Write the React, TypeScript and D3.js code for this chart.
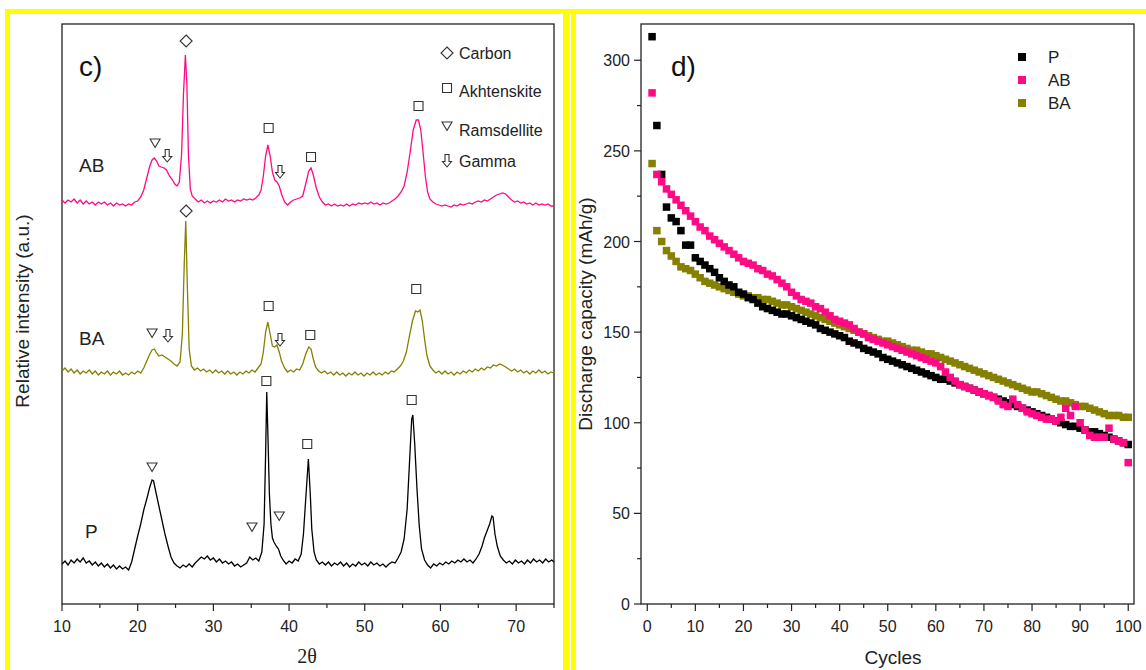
import React from "react";
import * as d3 from "d3";

// ---------- panel d) discharge capacity (mAh/g) per cycle ----------
const seriesNames = ["P", "AB", "BA"];
const seriesColors = { P: "#000000", AB: "#ff0a85", BA: "#858000" };

const capP = [
  313, 264, 237, 219, 213, 211, 206, 198, 198, 191,
  189, 187, 185, 183, 180, 178, 176, 175, 172, 171,
  169, 168, 166, 164, 163, 162, 161, 160, 160, 159,
  158, 157, 156, 155, 154, 152, 151, 150, 149, 148,
  147, 145, 144, 143, 141, 140, 139, 138, 136, 135,
  134, 133, 132, 131, 130, 129, 128, 127, 126, 125,
  124, 124, 123, 122, 121, 120, 119, 118, 117, 116,
  115, 114, 113, 112, 111, 110, 109, 108, 107, 106,
  105, 104, 103, 102, 101, 100, 99, 98, 98, 97,
  96, 95, 95, 94, 93, 92, 91, 90, 89, 88,
];

const capAB = [
  282, 237, 233, 229, 226, 223, 220, 217, 214, 211,
  208, 206, 203, 201, 199, 197, 195, 193, 191, 189,
  188, 187, 185, 184, 182, 181, 179, 177, 175, 172,
  170, 168, 167, 166, 164, 163, 161, 159, 157, 156,
  155, 154, 152, 150, 149, 147, 146, 145, 144, 143,
  142, 141, 140, 139, 138, 137, 136, 135, 134, 133,
  131, 128, 125, 123, 121, 120, 119, 118, 117, 116,
  115, 114, 112, 110, 109, 113, 110, 108, 106, 105,
  104, 103, 102, 102, 101, 103, 108, 104, 109, 100,
  96, 93, 92, 92, 92, 97, 91, 90, 89, 78,
];

const capBA = [
  243, 206, 200, 195, 192, 189, 186, 185, 184, 182,
  180, 178, 177, 176, 175, 174, 173, 172, 171, 170,
  170, 169, 169, 168, 168, 167, 166, 165, 165, 164,
  163, 162, 161, 160, 159, 158, 157, 156, 155, 154,
  153, 152, 151, 150, 149, 148, 147, 146, 145, 145,
  144, 143, 142, 141, 140, 140, 139, 138, 138, 137,
  136, 135, 134, 133, 132, 131, 130, 129, 128, 127,
  126, 125, 124, 123, 122, 121, 120, 119, 118, 117,
  117, 116, 115, 114, 113, 112, 112, 111, 110, 109,
  109, 108, 107, 106, 105, 104, 104, 104, 103, 103,
];

const capTicks = [0, 50, 100, 150, 200, 250, 300];
const cycleTicks = [0, 10, 20, 30, 40, 50, 60, 70, 80, 90, 100];

// ---------- panel c) XRD patterns, [2theta, intensity a.u.] ----------
const xrdAB = [
  [10.0, 404], [10.4, 401], [10.8, 404], [11.2, 402], [11.6, 405], [12.0, 401], [12.4, 404], [12.8, 400],
  [13.2, 403], [13.6, 400], [14.0, 402], [14.4, 399], [14.8, 402], [15.2, 400], [15.6, 402], [16.0, 399],
  [16.4, 401], [16.8, 398], [17.2, 401], [17.6, 399], [18.0, 400], [18.4, 398], [18.8, 400], [19.2, 399],
  [19.6, 402], [20.0, 403], [20.4, 407], [20.8, 414], [21.2, 426], [21.6, 438], [21.9, 444], [22.2, 446],
  [22.5, 443], [22.8, 438], [23.1, 437], [23.5, 436], [23.8, 434], [24.2, 428], [24.6, 424], [24.9, 420],
  [25.2, 418], [25.5, 422], [25.8, 450], [26.05, 510], [26.3, 549], [26.5, 520], [26.7, 450], [26.95, 415],
  [27.2, 408], [27.6, 405], [28.0, 402], [28.4, 404], [28.8, 401], [29.2, 403], [29.6, 401], [30.0, 403],
  [30.4, 402], [30.8, 404], [31.2, 402], [31.6, 405], [32.0, 403], [32.4, 404], [32.8, 402], [33.2, 404],
  [33.6, 403], [34.0, 405], [34.4, 404], [34.8, 405], [35.2, 404], [35.6, 406], [36.0, 409], [36.3, 414],
  [36.6, 428], [36.9, 448], [37.2, 459], [37.5, 448], [37.8, 432], [38.1, 424], [38.4, 422], [38.7, 418],
  [39.0, 410], [39.4, 402], [39.8, 399], [40.2, 402], [40.6, 404], [41.0, 405], [41.4, 406], [41.8, 408],
  [42.2, 420], [42.6, 433], [42.9, 436], [43.2, 429], [43.6, 416], [44.0, 407], [44.4, 402], [44.8, 399],
  [45.2, 400], [45.6, 398], [46.0, 400], [46.4, 398], [46.8, 399], [47.2, 398], [47.6, 400], [48.0, 398],
  [48.4, 400], [48.8, 399], [49.2, 401], [49.6, 400], [50.0, 401], [50.4, 400], [50.8, 402], [51.2, 400],
  [51.6, 401], [52.0, 399], [52.4, 401], [52.8, 400], [53.2, 401], [53.6, 403], [54.0, 405], [54.4, 408],
  [54.8, 412], [55.2, 418], [55.6, 432], [56.0, 452], [56.4, 474], [56.8, 484], [57.1, 484], [57.4, 474],
  [57.7, 452], [58.0, 428], [58.3, 412], [58.6, 405], [59.0, 402], [59.4, 400], [59.8, 399], [60.2, 398],
  [60.6, 399], [61.0, 398], [61.4, 397], [61.8, 399], [62.2, 398], [62.6, 400], [63.0, 399], [63.4, 400],
  [63.8, 401], [64.2, 400], [64.6, 402], [65.0, 403], [65.4, 402], [65.8, 404], [66.2, 403], [66.6, 405],
  [67.0, 407], [67.4, 409], [67.8, 410], [68.2, 411], [68.6, 410], [69.0, 407], [69.4, 404], [69.8, 402],
  [70.2, 403], [70.6, 401], [71.0, 402], [71.4, 400], [71.8, 401], [72.2, 399], [72.6, 401], [73.0, 399],
  [73.4, 400], [73.8, 399], [74.2, 400], [74.6, 398], [75.0, 398],
];

const xrdBA = [
  [10.0, 233], [10.4, 236], [10.8, 232], [11.2, 235], [11.6, 231], [12.0, 234], [12.4, 230], [12.8, 233],
  [13.2, 231], [13.6, 234], [14.0, 230], [14.4, 233], [14.8, 229], [15.2, 232], [15.6, 230], [16.0, 233],
  [16.4, 229], [16.8, 232], [17.2, 230], [17.6, 233], [18.0, 229], [18.4, 231], [18.8, 229], [19.2, 232],
  [19.6, 230], [20.0, 233], [20.4, 231], [20.8, 236], [21.2, 243], [21.6, 250], [21.9, 254], [22.2, 255],
  [22.5, 251], [22.8, 248], [23.2, 249], [23.6, 247], [24.0, 245], [24.4, 243], [24.8, 240], [25.2, 238],
  [25.6, 242], [25.9, 270], [26.15, 340], [26.35, 383], [26.55, 320], [26.8, 255], [27.1, 238], [27.5, 234],
  [27.9, 236], [28.3, 233], [28.7, 235], [29.1, 232], [29.5, 234], [29.9, 231], [30.3, 234], [30.7, 231],
  [31.1, 233], [31.5, 230], [31.9, 233], [32.3, 230], [32.7, 232], [33.1, 229], [33.5, 232], [33.9, 230],
  [34.3, 233], [34.7, 231], [35.1, 234], [35.5, 232], [35.9, 236], [36.3, 240], [36.6, 252], [36.9, 272],
  [37.2, 282], [37.5, 270], [37.8, 258], [38.1, 257], [38.4, 259], [38.7, 252], [39.0, 243], [39.4, 236],
  [39.8, 232], [40.2, 234], [40.6, 232], [41.0, 235], [41.4, 234], [41.8, 240], [42.2, 250], [42.6, 257],
  [42.9, 255], [43.2, 245], [43.5, 237], [43.9, 233], [44.3, 231], [44.7, 233], [45.1, 230], [45.5, 232],
  [45.9, 229], [46.3, 232], [46.7, 229], [47.1, 231], [47.5, 228], [47.9, 231], [48.3, 229], [48.7, 232],
  [49.1, 229], [49.5, 231], [49.9, 228], [50.3, 231], [50.7, 229], [51.1, 232], [51.5, 229], [51.9, 231],
  [52.3, 229], [52.7, 232], [53.1, 230], [53.5, 233], [53.9, 232], [54.3, 235], [54.7, 238], [55.1, 243],
  [55.5, 252], [55.9, 268], [56.3, 283], [56.7, 293], [57.0, 292], [57.3, 294], [57.6, 283], [57.9, 265],
  [58.2, 249], [58.6, 238], [59.0, 234], [59.4, 231], [59.8, 233], [60.2, 230], [60.6, 233], [61.0, 230],
  [61.4, 232], [61.8, 229], [62.2, 232], [62.6, 230], [63.0, 233], [63.4, 231], [63.8, 234], [64.2, 232],
  [64.6, 235], [65.0, 233], [65.4, 236], [65.8, 234], [66.2, 237], [66.6, 236], [67.0, 239], [67.4, 238],
  [67.8, 240], [68.2, 239], [68.6, 237], [69.0, 235], [69.4, 233], [69.8, 235], [70.2, 232], [70.6, 234],
  [71.0, 231], [71.4, 233], [71.8, 230], [72.2, 233], [72.6, 231], [73.0, 234], [73.4, 231], [73.8, 233],
  [74.2, 230], [74.6, 232], [75.0, 231],
];

const xrdP = [
  [10.0, 40], [10.4, 43], [10.8, 39], [11.2, 44], [11.6, 41], [12.0, 45], [12.4, 42], [12.8, 46],
  [13.2, 41], [13.6, 43], [14.0, 39], [14.4, 42], [14.8, 38], [15.2, 41], [15.6, 37], [16.0, 40],
  [16.4, 36], [16.8, 39], [17.2, 35], [17.6, 38], [18.0, 35], [18.4, 37], [18.8, 34], [19.2, 42],
  [19.6, 55], [20.0, 68], [20.4, 80], [20.8, 94], [21.2, 105], [21.6, 117], [21.9, 124], [22.1, 123],
  [22.4, 112], [22.8, 98], [23.2, 84], [23.6, 70], [24.0, 58], [24.4, 47], [24.8, 41], [25.2, 38],
  [25.6, 36], [26.0, 39], [26.4, 37], [26.8, 40], [27.2, 37], [27.6, 41], [28.0, 44], [28.4, 47],
  [28.8, 45], [29.2, 48], [29.6, 44], [30.0, 46], [30.4, 42], [30.8, 45], [31.2, 41], [31.6, 43],
  [32.0, 40], [32.4, 42], [32.8, 38], [33.2, 40], [33.6, 37], [34.0, 39], [34.4, 41], [34.8, 47],
  [35.2, 44], [35.6, 46], [36.0, 43], [36.4, 52], [36.7, 80], [36.9, 150], [37.05, 212], [37.2, 170],
  [37.4, 110], [37.6, 80], [37.8, 66], [38.0, 62], [38.3, 58], [38.6, 55], [38.9, 48], [39.2, 44],
  [39.6, 40], [40.0, 43], [40.4, 41], [40.8, 45], [41.2, 43], [41.6, 50], [41.9, 70], [42.2, 105],
  [42.55, 145], [42.8, 110], [43.0, 75], [43.3, 52], [43.6, 44], [44.0, 40], [44.4, 42], [44.8, 39],
  [45.2, 42], [45.6, 38], [46.0, 41], [46.4, 39], [46.8, 42], [47.2, 38], [47.6, 41], [48.0, 37],
  [48.4, 40], [48.8, 38], [49.2, 42], [49.6, 39], [50.0, 41], [50.4, 38], [50.8, 42], [51.2, 39],
  [51.6, 41], [52.0, 38], [52.4, 40], [52.8, 37], [53.2, 40], [53.6, 42], [54.0, 41], [54.4, 46],
  [54.8, 52], [55.2, 65], [55.6, 95], [55.9, 140], [56.2, 185], [56.35, 189], [56.6, 160], [56.9, 115],
  [57.2, 78], [57.5, 55], [57.9, 44], [58.3, 39], [58.7, 36], [59.1, 40], [59.5, 38], [59.9, 41],
  [60.3, 39], [60.7, 42], [61.1, 40], [61.5, 43], [61.9, 41], [62.3, 44], [62.7, 42], [63.1, 45],
  [63.5, 42], [63.9, 44], [64.3, 41], [64.7, 45], [65.1, 50], [65.5, 58], [65.8, 66], [66.1, 72],
  [66.5, 80], [66.8, 88], [66.95, 87], [67.2, 70], [67.5, 58], [67.9, 48], [68.3, 44], [68.7, 41],
  [69.1, 43], [69.5, 40], [69.9, 44], [70.3, 41], [70.7, 43], [71.1, 40], [71.5, 44], [71.9, 41],
  [72.3, 45], [72.7, 42], [73.1, 44], [73.5, 41], [73.9, 45], [74.3, 42], [74.7, 44], [75.0, 42],
];

// phase markers: [phase, 2theta, intensity]
const phaseMarks = [
  ["ramsdellite", 22.3, 461], ["gamma", 23.9, 448], ["carbon", 26.4, 563], ["akhtenskite", 37.3, 476],
  ["gamma", 38.8, 432], ["akhtenskite", 42.9, 447], ["akhtenskite", 57.1, 498],
  ["carbon", 26.4, 393],
  ["ramsdellite", 21.9, 271], ["gamma", 24.0, 268], ["akhtenskite", 37.3, 298], ["gamma", 38.8, 264],
  ["akhtenskite", 42.8, 269], ["akhtenskite", 56.8, 315],
  ["ramsdellite", 21.9, 137], ["ramsdellite", 35.1, 77], ["ramsdellite", 38.7, 88],
  ["akhtenskite", 37.0, 223], ["akhtenskite", 42.4, 160], ["akhtenskite", 56.2, 204],
];
const phaseLegend = [
  ["carbon", "Carbon"],
  ["akhtenskite", "Akhtenskite"],
  ["ramsdellite", "Ramsdellite"],
  ["gamma", "Gamma"],
];
const sampleLabels = [
  ["AB", 439],
  ["BA", 266],
  ["P", 73],
];
const thetaTicks = [10, 20, 30, 40, 50, 60, 70];

const FONT = "'Liberation Sans', Arial, sans-serif";
const SYM = "#333";

function symbolPath(kind: string, cx: number, cy: number) {
  if (kind === "carbon")
    return `M${cx},${cy - 6}L${cx + 6},${cy}L${cx},${cy + 6}L${cx - 6},${cy}Z`;
  if (kind === "akhtenskite")
    return `M${cx - 4.5},${cy - 4.5}h9v9h-9Z`;
  if (kind === "ramsdellite")
    return `M${cx - 5},${cy - 4}L${cx + 5},${cy - 4}L${cx},${cy + 4.5}Z`;
  return `M${cx - 2},${cy - 6.5}L${cx + 2},${cy - 6.5}L${cx + 2},${cy + 0.5}L${cx + 4.5},${cy + 0.5}L${cx},${cy + 6}L${cx - 4.5},${cy + 0.5}L${cx - 2},${cy + 0.5}Z`;
}

export default function App() {
  // left panel scales
  const xT = d3.scaleLinear().domain([10, 75]).range([62, 554]);
  const yI = d3.scaleLinear().domain([0, 580]).range([604, 24]);
  const xrdLine = d3
    .line<number[]>()
    .x((d) => xT(d[0]))
    .y((d) => yI(d[1]));

  // right panel scales
  const xC = d3.scaleLinear().domain([-1.3, 101.2]).range([641, 1134]);
  const yC = d3.scaleLinear().domain([0, 320]).range([604, 24]);
  const caps: Record<string, number[]> = { P: capP, AB: capAB, BA: capBA };
  const drawOrder = ["BA", "P", "AB"];
  const sq = 7.5;

  const minorT = d3.range(15, 76, 10);
  const minorCyc = d3.range(5, 101, 10);
  const minorCap = d3.range(25, 320, 50);

  return (
    <svg
      width={1146}
      height={670}
      style={{ position: "absolute", left: 0, top: 0, background: "#fff" }}
      fontFamily={FONT}
    >
      {/* yellow panel borders */}
      <rect x={5} y={9} width={1141} height={5} fill="#ffff00" />
      <rect x={5} y={9} width={5} height={661} fill="#ffff00" />
      <rect x={563} y={9} width={7} height={661} fill="#ffff00" />
      <rect x={571} y={11} width={5} height={659} fill="#ffff00" />

      {/* ---------------- panel c ---------------- */}
      <rect x={62} y={24} width={492} height={580} fill="none" stroke="#222" strokeWidth={1.3} />
      {thetaTicks.map((t) => (
        <g key={"tt" + t}>
          <line x1={xT(t)} x2={xT(t)} y1={604} y2={611} stroke="#222" strokeWidth={1.2} />
          <text x={xT(t)} y={632} fontSize={16} textAnchor="middle" fill="#222">
            {t}
          </text>
        </g>
      ))}
      {minorT.map((t) => (
        <line key={"mt" + t} x1={xT(t)} x2={xT(t)} y1={604} y2={608} stroke="#222" strokeWidth={1.2} />
      ))}
      <text
        x={307}
        y={663}
        fontSize={20}
        textAnchor="middle"
        fontFamily="'Liberation Serif', 'Times New Roman', serif"
        fill="#222"
      >
        2θ
      </text>
      <text
        transform="translate(29,311) rotate(-90)"
        fontSize={19}
        textAnchor="middle"
        fill="#222"
      >
        Relative intensity (a.u.)
      </text>

      <path d={xrdLine(xrdAB as number[][]) || ""} fill="none" stroke={seriesColors.AB} strokeWidth={1.3} />
      <path d={xrdLine(xrdBA as number[][]) || ""} fill="none" stroke={seriesColors.BA} strokeWidth={1.3} />
      <path d={xrdLine(xrdP as number[][]) || ""} fill="none" stroke="#000" strokeWidth={1.3} />

      {phaseMarks.map((m, i) => (
        <path
          key={"pm" + i}
          d={symbolPath(m[0] as string, xT(m[1] as number), yI(m[2] as number))}
          fill="#fff"
          stroke={SYM}
          strokeWidth={1.1}
        />
      ))}

      {phaseLegend.map((p, i) => {
        const cy = [53, 88, 126, 161][i];
        return (
          <g key={"pl" + i}>
            <path d={symbolPath(p[0], 447, cy)} fill="#fff" stroke={SYM} strokeWidth={1.1} />
            <text x={459} y={[59, 97, 136, 167][i]} fontSize={16} fill="#222">
              {p[1]}
            </text>
          </g>
        );
      })}

      {sampleLabels.map((s) => (
        <text key={"sl" + s[0]} x={s[0] === "P" ? 85 : 79} y={yI(s[1] as number) + 7} fontSize={19} fill="#222">
          {s[0]}
        </text>
      ))}
      <text x={79} y={76} fontSize={28} fill="#111">
        c)
      </text>

      {/* ---------------- panel d ---------------- */}
      <rect x={641} y={24} width={493} height={580} fill="none" stroke="#222" strokeWidth={1.3} />
      {capTicks.map((t) => (
        <g key={"ct" + t}>
          <line x1={634} x2={641} y1={yC(t)} y2={yC(t)} stroke="#222" strokeWidth={1.2} />
          <text x={630} y={yC(t) + 6} fontSize={16} textAnchor="end" fill="#222">
            {t}
          </text>
        </g>
      ))}
      {minorCap.map((t) => (
        <line key={"mc" + t} x1={637} x2={641} y1={yC(t)} y2={yC(t)} stroke="#222" strokeWidth={1.2} />
      ))}
      {cycleTicks.map((t) => (
        <g key={"cy" + t}>
          <line x1={xC(t)} x2={xC(t)} y1={604} y2={611} stroke="#222" strokeWidth={1.2} />
          <text x={xC(t)} y={632} fontSize={16} textAnchor="middle" fill="#222">
            {t}
          </text>
        </g>
      ))}
      {minorCyc.map((t) => (
        <line key={"mcy" + t} x1={xC(t)} x2={xC(t)} y1={604} y2={608} stroke="#222" strokeWidth={1.2} />
      ))}
      <text x={893} y={664} fontSize={19} textAnchor="middle" fill="#222">
        Cycles
      </text>
      <text transform="translate(592,314) rotate(-90)" fontSize={19} textAnchor="middle" fill="#222">
        Discharge capacity (mAh/g)
      </text>

      {drawOrder.map((name) => (
        <g key={"s" + name} fill={(seriesColors as any)[name]}>
          {caps[name].map((v, i) => (
            <rect key={i} x={xC(i + 1) - sq / 2} y={yC(v) - sq / 2} width={sq} height={sq} />
          ))}
        </g>
      ))}

      {seriesNames.map((name, i) => {
        const cy = [57, 80, 103][i];
        return (
          <g key={"lg" + name}>
            <rect x={1018} y={cy - 4} width={8} height={8} fill={(seriesColors as any)[name]} />
            <text x={1048} y={cy + 6} fontSize={17} fill="#222">
              {name}
            </text>
          </g>
        );
      })}
      <text x={671} y={76} fontSize={28} fill="#111">
        d)
      </text>
    </svg>
  );
}
